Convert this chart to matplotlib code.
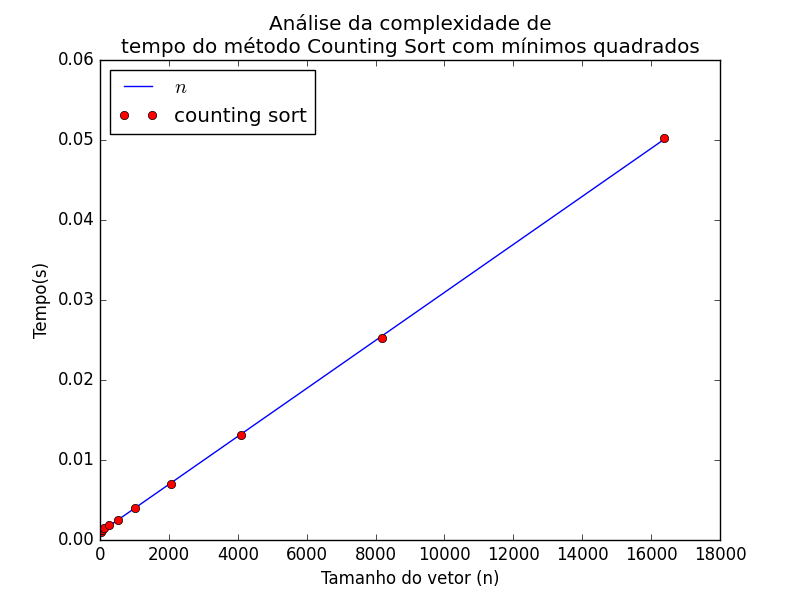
import numpy as np
import matplotlib
matplotlib.use("Agg")
import matplotlib.pyplot as plt

plt.style.use("classic")

tamanhos = [32, 64, 128, 256, 512, 1024, 2048, 4096, 8192, 16384]
tempos = [0.0010, 0.0012, 0.0015, 0.0019, 0.0025, 0.0040, 0.0070, 0.0131, 0.0252, 0.0503]

# Ajuste por mínimos quadrados: t = a*n + b
a, b = np.polyfit(tamanhos, tempos, 1)
xs = np.array(tamanhos, dtype=float)

fig, ax = plt.subplots(figsize=(8, 6), dpi=100)
ax.plot(xs, a * xs + b, color="blue", label="$n$")
ax.plot(tamanhos, tempos, "ro", label="counting sort")

ax.set_xlim(0, 18000)
ax.set_ylim(0, 0.06)
ax.set_xlabel("Tamanho do vetor (n)")
ax.set_ylabel("Tempo(s)")
ax.set_title("Análise da complexidade de\ntempo do método Counting Sort com mínimos quadrados")
ax.legend(loc="upper left")

fig.savefig("out.png", dpi=100)
